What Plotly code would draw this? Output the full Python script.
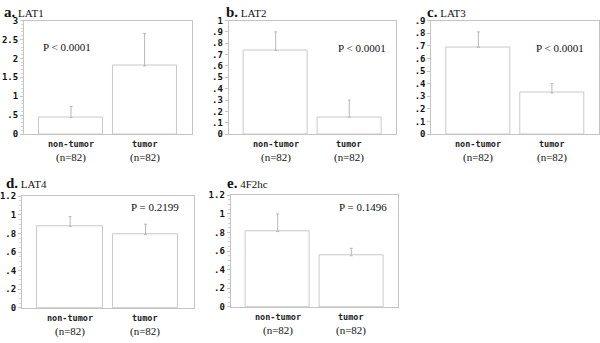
import plotly.graph_objects as go

W, H = 600, 343

categories = ["non-tumor", "tumor"]
n_labels = ["(n=82)", "(n=82)"]

panel_letters = ["a.", "b.", "c.", "d.", "e."]
panel_names = ["LAT1", "LAT2", "LAT3", "LAT4", "4F2hc"]
p_texts = ["P < 0.0001", "P < 0.0001", "P < 0.0001", "P = 0.2199", "P = 0.1496"]

means_lat1 = [0.435, 1.80]
tops_lat1 = [0.73, 2.66]
means_lat2 = [0.738, 0.15]
tops_lat2 = [0.90, 0.30]
means_lat3 = [0.688, 0.326]
tops_lat3 = [0.81, 0.40]
means_lat4 = [0.874, 0.79]
tops_lat4 = [0.98, 0.90]
means_4f2 = [0.81, 0.55]
tops_4f2 = [1.00, 0.63]

yt_a_vals = [0, 0.5, 1, 1.5, 2, 2.5, 3]
yt_a_text = ["0", ".5", "1", "1.5", "2", "2.5", "3"]
yt_b_vals = [0, .1, .2, .3, .4, .5, .6, .7, .8, .9, 1]
yt_b_text = ["0", ".1", ".2", ".3", ".4", ".5", ".6", ".7", ".8", ".9", "1"]
yt_c_vals = [0, .1, .2, .3, .4, .5, .6, .7, .8, .9]
yt_c_text = ["0", ".1", ".2", ".3", ".4", ".5", ".6", ".7", ".8", ".9"]
yt_de_vals = [0, .2, .4, .6, .8, 1, 1.2]
yt_de_text = ["0", ".2", ".4", ".6", ".8", "1", "1.2"]

panels = [
    dict(means=means_lat1, tops=tops_lat1, ymax=3, tv=yt_a_vals, tt=yt_a_text, minor=0.1,
         box=(23, 191, 16, 133), title=(1, 7), p=(66, 43)),
    dict(means=means_lat2, tops=tops_lat2, ymax=1, tv=yt_b_vals, tt=yt_b_text, minor=None,
         box=(228, 396, 16, 133), title=(223, 7), p=(362, 44)),
    dict(means=means_lat3, tops=tops_lat3, ymax=0.9, tv=yt_c_vals, tt=yt_c_text, minor=None,
         box=(431, 599, 16, 133), title=(425, 7), p=(560, 44)),
    dict(means=means_lat4, tops=tops_lat4, ymax=1.2, tv=yt_de_vals, tt=yt_de_text, minor=0.05,
         box=(21, 193, 197, 312), title=(3, 183), p=(154, 208)),
    dict(means=means_4f2, tops=tops_4f2, ymax=1.2, tv=yt_de_vals, tt=yt_de_text, minor=0.05,
         box=(230, 398, 196, 311), title=(224, 183), p=(363, 208)),
]

AX = "#c4c4c4"
fig = go.Figure()
annotations = []
layout = {}
for i, pn in enumerate(panels):
    k = "" if i == 0 else str(i + 1)
    x0, x1, y0, y1 = pn["box"]
    errs = [t - m for t, m in zip(pn["tops"], pn["means"])]
    fig.add_trace(go.Bar(
        x=categories, y=pn["means"], width=0.87,
        marker=dict(color="white", line=dict(color="#c8c8c8", width=1)),
        error_y=dict(type="data", symmetric=False, array=errs,
                     arrayminus=[0, 0], color="#b8b8b8", thickness=1, width=1.5),
        xaxis="x" + k, yaxis="y" + k, showlegend=False))
    layout["xaxis" + k] = dict(
        domain=[x0 / W, x1 / W], anchor="y" + k, range=[-0.64, 1.64],
        showticklabels=False, ticks="", showline=True, linecolor=AX,
        linewidth=1, mirror=True, showgrid=False, zeroline=False, fixedrange=True)
    ya = dict(
        domain=[1 - y1 / H, 1 - y0 / H], anchor="x" + k, range=[0, pn["ymax"]],
        tickmode="array", tickvals=pn["tv"], ticktext=pn["tt"],
        ticks="outside", ticklen=3, tickcolor=AX, tickwidth=1,
        tickfont=dict(family="DejaVu Sans Mono", size=9, color="#111", weight="bold"),
        showline=True, linecolor=AX, linewidth=1, mirror=True,
        showgrid=False, zeroline=False, fixedrange=True)
    if pn["minor"]:
        ya["minor"] = dict(dtick=pn["minor"], ticks="outside", ticklen=2,
                           tickcolor="#d4d4d4", showgrid=False)
    layout["yaxis" + k] = ya

    tx, ty = pn["title"]
    annotations.append(dict(
        x=tx / W, y=1 - ty / H, xref="paper", yref="paper",
        xanchor="left", yanchor="middle", showarrow=False,
        text=("<span style='font-size:15px'><b>" + panel_letters[i] + "</b></span>"
              "<span style='font-size:11px'> " + panel_names[i] + "</span>"),
        font=dict(family="Liberation Serif", color="#111")))
    px, py = pn["p"]
    annotations.append(dict(
        x=px / W, y=1 - py / H, xref="paper", yref="paper",
        xanchor="center", yanchor="middle", showarrow=False,
        text=p_texts[i], font=dict(family="Liberation Serif", size=11, color="#111")))
    for c, nl in zip(categories, n_labels):
        annotations.append(dict(
            x=c, y=1 - (y1 + 10) / H, xref="x" + k, yref="paper",
            xanchor="center", yanchor="middle", showarrow=False,
            text="<b>" + c + "</b>",
            font=dict(family="DejaVu Sans Mono", size=8.5, color="#222")))
        annotations.append(dict(
            x=c, y=1 - (y1 + 24) / H, xref="x" + k, yref="paper",
            xanchor="center", yanchor="middle", showarrow=False,
            text=nl, font=dict(family="Liberation Serif", size=11, color="#111")))

fig.update_layout(
    width=W, height=H, margin=dict(l=0, r=0, t=0, b=0),
    paper_bgcolor="white", plot_bgcolor="white",
    annotations=annotations, bargap=0, **layout)

fig.write_html("out.html", config={"displayModeBar": False},
               post_script="document.body.style.margin='0';document.body.style.padding='0';")
